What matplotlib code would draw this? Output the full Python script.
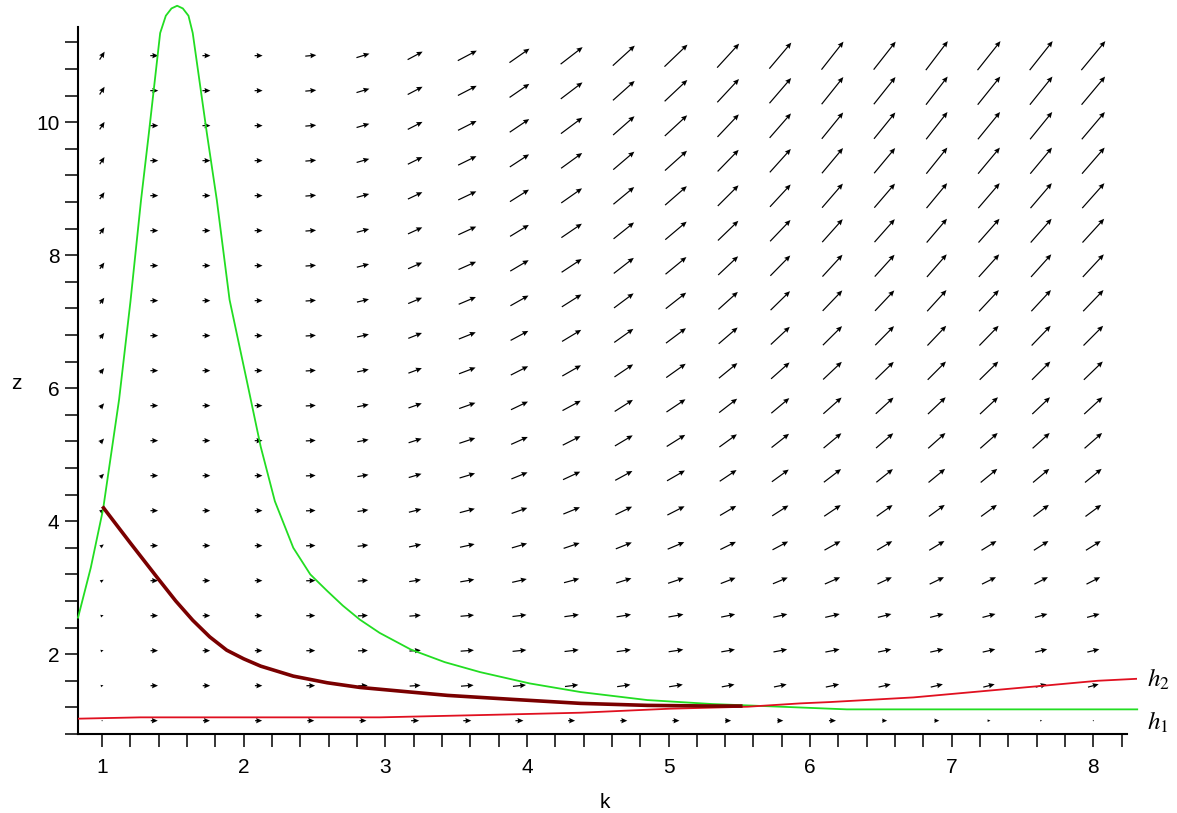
import numpy as np
import matplotlib
matplotlib.use("Agg")
import matplotlib.pyplot as plt

plt.rcParams['font.family'] = ['Liberation Sans', 'DejaVu Sans']
plt.rcParams['mathtext.fontset'] = 'stix'

# direction field grid (k columns, z rows)
grid_k = np.linspace(1.0, 8.0, 20)
grid_z = np.linspace(1.0, 11.0, 20)

# arrow components in pixels, read per column at the top row and the bottom row
dx_top = [5, 8, 8, 8, 11, 13, 15, 19, 20, 22, 22, 23, 22, 22, 22, 22, 22, 23, 23, 24]
dy_top = [8, 0, 0, 0, 1, 4, 8, 10, 14, 17, 20, 22, 24, 26, 28, 28, 29, 29, 29, 29]
dx_bot = [1, 7, 7, 7, 7, 7, 8, 8, 8, 7, 7, 7, 6, 6, 7, 5, 5, 3, 2, 1]
dy_bot = [0] * 20
wx_row = [0, 0.42, 0.48, 0.5, 0.55, 0.6, 0.64, 0.68, 0.72, 0.75,
          0.78, 0.81, 0.84, 0.87, 0.9, 0.92, 0.94, 0.96, 0.98, 1.0]
wy_row = [0, 0.1, 0.1, 0.12, 0.24, 0.32, 0.4, 0.47, 0.53, 0.58,
          0.63, 0.68, 0.73, 0.78, 0.82, 0.86, 0.9, 0.94, 0.97, 1.0]

# curves
green_k = [0.83, 0.92, 1.007, 1.12, 1.2, 1.275, 1.33, 1.41, 1.45, 1.49, 1.53, 1.57, 1.61,
           1.64, 1.74, 1.81, 1.90, 2.02, 2.12, 2.22, 2.35, 2.47, 2.59, 2.70, 2.82,
           2.96, 3.18, 3.42, 3.67, 4.02, 4.38, 4.85, 5.31, 5.91, 6.26, 7.0, 8.31]
green_z = [2.55, 3.3, 4.18, 5.83, 7.3, 8.83, 9.83, 11.34, 11.6, 11.71, 11.75, 11.71, 11.6,
           11.34, 9.83, 8.83, 7.33, 6.13, 5.12, 4.3, 3.6, 3.2, 2.95, 2.73, 2.52,
           2.32, 2.07, 1.88, 1.73, 1.56, 1.43, 1.31, 1.25, 1.20, 1.17, 1.17, 1.17]

h2_k = [0.83, 1.27, 2.96, 3.79, 4.38, 5.01, 5.56, 5.93, 6.14, 6.73, 7.20, 7.67, 8.03, 8.31]
h2_z = [1.03, 1.05, 1.05, 1.09, 1.12, 1.18, 1.21, 1.26, 1.28, 1.35, 1.44, 1.53, 1.60, 1.63]

traj_k = [1.01, 1.20, 1.39, 1.52, 1.64, 1.76, 1.88, 2.0, 2.12, 2.35, 2.59, 2.82, 3.18,
          3.44, 3.90, 4.38, 4.85, 5.31, 5.51]
traj_z = [4.20, 3.67, 3.15, 2.80, 2.51, 2.26, 2.06, 1.93, 1.82, 1.67, 1.57, 1.50, 1.43,
          1.38, 1.32, 1.26, 1.23, 1.22, 1.22]

fig = plt.figure(figsize=(11.77, 8.13), dpi=100)
ax = fig.add_axes([0.0663, 0.0972, 0.8999, 0.8998])
ax.set_xlim(0.83, 8.31)
ax.set_ylim(0.8, 11.8)

KK, ZZ = np.meshgrid(grid_k, grid_z)
U = np.zeros_like(KK)
V = np.zeros_like(KK)
for r in range(len(grid_z)):
    for c in range(len(grid_k)):
        U[r, c] = dx_bot[c] + (dx_top[c] - dx_bot[c]) * wx_row[r]
        V[r, c] = dy_bot[c] + (dy_top[c] - dy_bot[c]) * wy_row[r]

ax.quiver(KK, ZZ, U, V, angles='uv', scale_units='dots', scale=1, units='dots',
          width=1.2, headwidth=4.5, headlength=5, headaxislength=4.5, pivot='middle',
          color='black', zorder=2)

ax.plot(green_k, green_z, color='#22dd22', lw=1.3, zorder=3, clip_on=False,
        solid_joinstyle='round')
ax.plot(h2_k, h2_z, color='#e01020', lw=1.3, zorder=3)
ax.plot(traj_k, traj_z, color='#7a0000', lw=2.6, zorder=4, solid_joinstyle='round')

for s in ['top', 'right']:
    ax.spines[s].set_visible(False)
ax.spines['left'].set_linewidth(1.5)
ax.spines['bottom'].set_linewidth(1.5)
ax.spines['left'].set_bounds(0.8, 11.43)
ax.spines['bottom'].set_bounds(0.83, 8.24)

ax.set_xticks(range(1, 9))
ax.set_xticks(np.arange(1.2, 8.3, 0.2), minor=True)
ax.set_yticks([2, 4, 6, 8, 10])
ax.set_yticks(np.arange(0.8, 11.3, 0.4), minor=True)
ax.tick_params(which='both', direction='out', length=9.5, width=1.1)
ax.tick_params(axis='x', labelsize=15, pad=8)
ax.tick_params(axis='y', labelsize=15, pad=4)

fig.text(605 / 1177, 1 - 802 / 813, 'k', fontsize=15, ha='center', va='center')
fig.text(16 / 1177, 1 - 383 / 813, 'z', fontsize=15, ha='center', va='center')
ax.text(8.38, 1.62, '$h_2$', fontsize=18, ha='left', va='center', clip_on=False)
ax.text(8.38, 0.98, '$h_1$', fontsize=18, ha='left', va='center', clip_on=False)

fig.savefig('out.png', dpi=100)
